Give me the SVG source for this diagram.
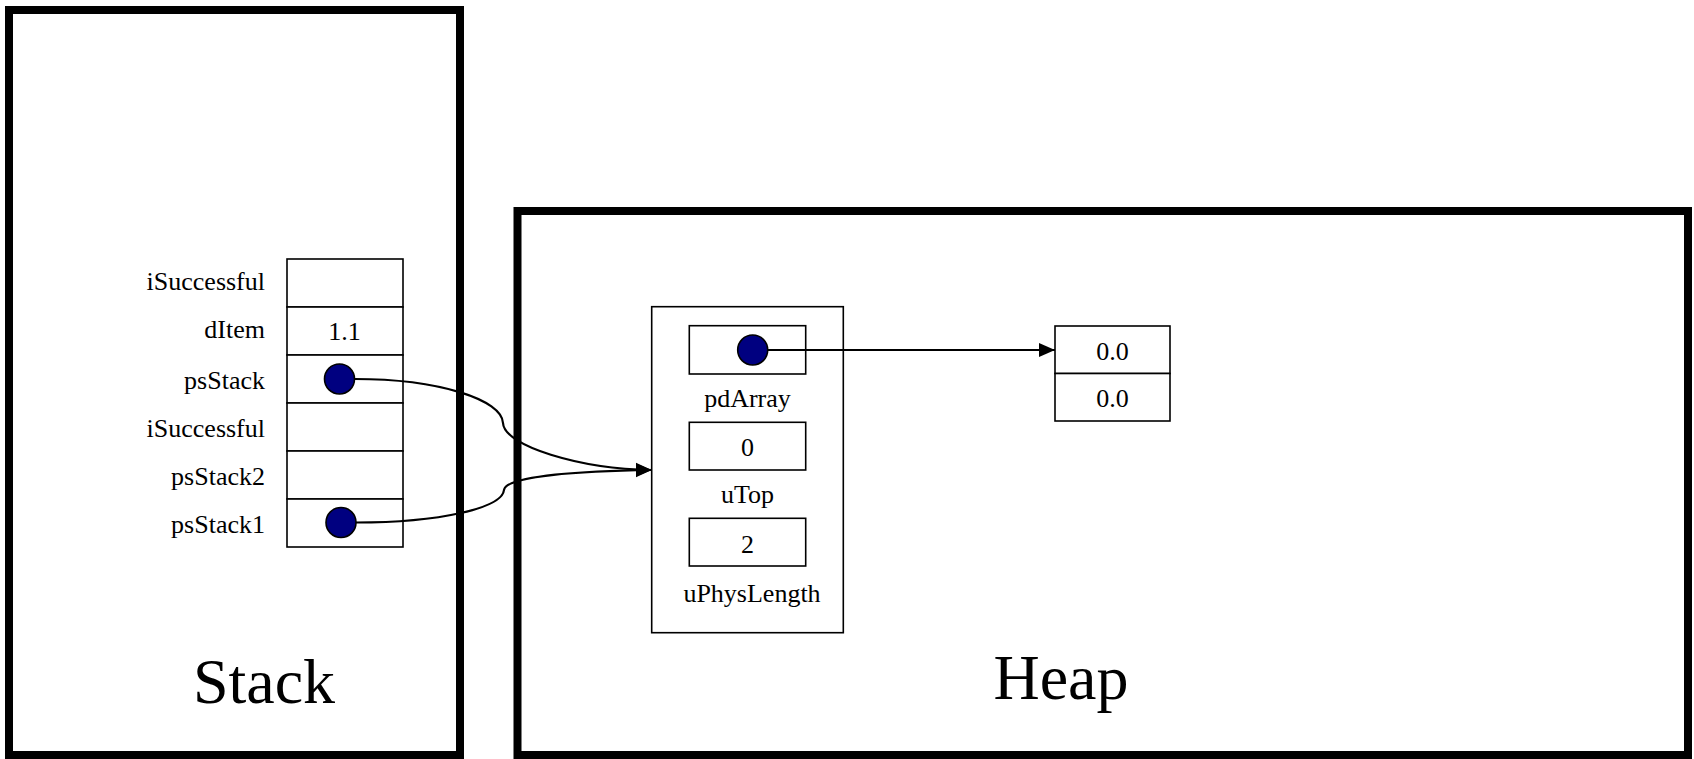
<svg xmlns="http://www.w3.org/2000/svg" width="1694" height="759" viewBox="0 0 1694 759">
<style>
text{font-family:"Liberation Serif","Times New Roman",serif;fill:#000}
.lbl{font-size:26px}
.r{text-anchor:end}
.m{text-anchor:middle}
.big{font-size:64px;text-anchor:middle}
.cluster{fill:none;stroke:#000;stroke-width:8}
.cell{fill:#fff;stroke:#000;stroke-width:1.6}
.box{fill:none;stroke:#000;stroke-width:1.6}
.ptr{fill:#000080;stroke:#000;stroke-width:1.6}
.edge{fill:none;stroke:#000;stroke-width:2.2}
</style>
<defs>
<marker id="ah" markerUnits="userSpaceOnUse" markerWidth="16" markerHeight="16" viewBox="0 0 16 14" refX="16" refY="7" orient="auto">
<path d="M0,0 L16,7 L0,14 Z" fill="#000"/>
</marker>
</defs>
<rect width="1694" height="759" fill="#fff"/>
<g id="stack">
<rect class="cluster" x="9" y="10" width="451" height="745"/>
<text class="big" x="264" y="703">Stack</text>
</g>
<g id="heap">
<rect class="cluster" x="517.5" y="211" width="1170.5" height="544"/>
<text class="big" x="1061" y="699">Heap</text>
</g>
<g id="stackframe">
<rect class="cell" x="287" y="259" width="116" height="48"/>
<rect class="cell" x="287" y="307" width="116" height="48"/>
<rect class="cell" x="287" y="355" width="116" height="48"/>
<rect class="cell" x="287" y="403" width="116" height="48"/>
<rect class="cell" x="287" y="451" width="116" height="48"/>
<rect class="cell" x="287" y="499" width="116" height="48"/>
<text class="lbl r" x="265" y="290">iSuccessful</text>
<text class="lbl r" x="265" y="338">dItem</text>
<text class="lbl r" x="265" y="389">psStack</text>
<text class="lbl r" x="265" y="437">iSuccessful</text>
<text class="lbl r" x="265" y="485">psStack2</text>
<text class="lbl r" x="265" y="533">psStack1</text>
<text class="lbl m" x="344.5" y="340">1.1</text>
<circle class="ptr" cx="339.5" cy="379" r="15"/>
<circle class="ptr" cx="341" cy="522.5" r="15"/>
</g>
<g id="stackobj">
<rect class="box" x="651.7" y="306.7" width="191.6" height="326"/>
<rect class="cell" x="689.3" y="325.7" width="116.4" height="48.3"/>
<rect class="cell" x="689.3" y="422.3" width="116.4" height="47.7"/>
<rect class="cell" x="689.3" y="518.3" width="116.4" height="47.7"/>
<circle class="ptr" cx="752.7" cy="350" r="15"/>
<text class="lbl m" x="747.5" y="407">pdArray</text>
<text class="lbl m" x="747.5" y="456">0</text>
<text class="lbl m" x="747.5" y="502.7">uTop</text>
<text class="lbl m" x="747.5" y="552.7">2</text>
<text class="lbl m" x="752" y="601.7">uPhysLength</text>
</g>
<g id="array">
<rect class="cell" x="1055" y="326" width="115" height="47.5"/>
<rect class="cell" x="1055" y="373.5" width="115" height="47.5"/>
<text class="lbl m" x="1112.5" y="360">0.0</text>
<text class="lbl m" x="1112.5" y="406.7">0.0</text>
</g>
<g id="connectors">
<path class="edge" marker-end="url(#ah)" d="M354.5,379 C440,379 502,400 503,423 C504,446 580,469 651.7,470"/>
<path class="edge" marker-end="url(#ah)" d="M356,522.5 C440,522.5 502,508 504,490 C506,476 580,471 651.7,470"/>
<path class="edge" marker-end="url(#ah)" d="M767.7,350 L1055,350"/>
</g>
</svg>
